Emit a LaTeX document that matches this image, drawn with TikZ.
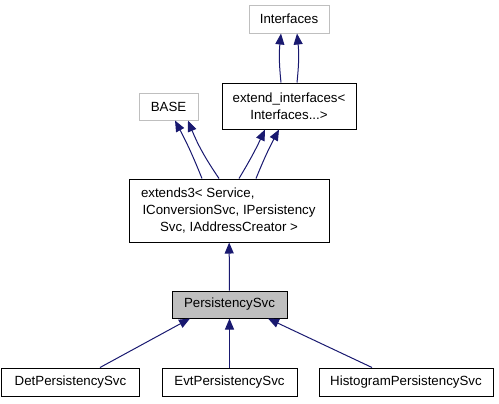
\documentclass[tikz,border=0pt]{standalone}
\usepackage{fontspec}
\setmainfont{Liberation Sans}
\usepackage{xcolor}
\usetikzlibrary{arrows.meta, positioning}
\definecolor{edgeblue}{HTML}{191970}
\definecolor{undocgray}{HTML}{BFBFBF}

\begin{document}
\begin{tikzpicture}[x=1bp, y=-1bp,
  cls/.style={draw=black, line width=1bp, inner sep=0pt, align=center,
    font=\fontsize{13.3bp}{17bp}\selectfont},
  undoc/.style={cls, draw=undocgray},
  inh/.style={draw=edgeblue, line width=1bp,
    -{Triangle[length=11bp, width=9bp]}, fill=none}]
  \useasboundingbox (0,0) rectangle (499,403);
  \node[undoc, minimum width=80bp, minimum height=28bp] (IF) at (289,19) {Interfaces};
  \node[cls, minimum width=134bp, minimum height=46bp] (EI) at (289,106) {extend\_interfaces<\\Interfaces...>};
  \node[undoc, minimum width=59bp, minimum height=27bp] (B) at (168.5,106.5) {BASE};
  \node[cls, minimum width=200bp, minimum height=63bp] (E3) at (229,210.5)
    {\makebox[176bp][l]{extends3< Service,}\\IConversionSvc, IPersistency\\Svc, IAddressCreator >};
  \node[cls, fill=undocgray, minimum width=115bp, minimum height=27bp] (PS) at (229.5,304.5) {PersistencySvc};
  \node[cls, minimum width=137bp, minimum height=28bp] (DPS) at (70.5,382) {DetPersistencySvc};
  \node[cls, minimum width=135bp, minimum height=28bp] (EPS) at (229.5,382) {EvtPersistencySvc};
  \node[cls, minimum width=174bp, minimum height=28bp] (HPS) at (406,382) {HistogramPersistencySvc};
  % inheritance edges, arrow at base class
  \draw[inh] ([xshift=-8bp]EI.north) to[bend left=6] ([xshift=-8bp]IF.south);
  \draw[inh] ([xshift=8bp]EI.north) to[bend right=6] ([xshift=8bp]IF.south);
  \draw[inh] ([xshift=-27bp]E3.north) to[bend right=3] ([xshift=6.5bp]B.south);
  \draw[inh] ([xshift=-10bp]E3.north) to[bend left=6] ([xshift=19.5bp]B.south);
  \draw[inh] ([xshift=10bp]E3.north) to[bend right=3] ([xshift=-24bp]EI.south);
  \draw[inh] ([xshift=27bp]E3.north) to[bend left=3] ([xshift=-10bp]EI.south);
  \draw[inh] (PS) -- (E3);
  \draw[inh] ([xshift=29.5bp]DPS.north) -- ([xshift=-39.5bp]PS.south);
  \draw[inh] (EPS) -- (PS);
  \draw[inh] ([xshift=-34bp]HPS.north) -- ([xshift=38.5bp]PS.south);
\end{tikzpicture}
\end{document}
